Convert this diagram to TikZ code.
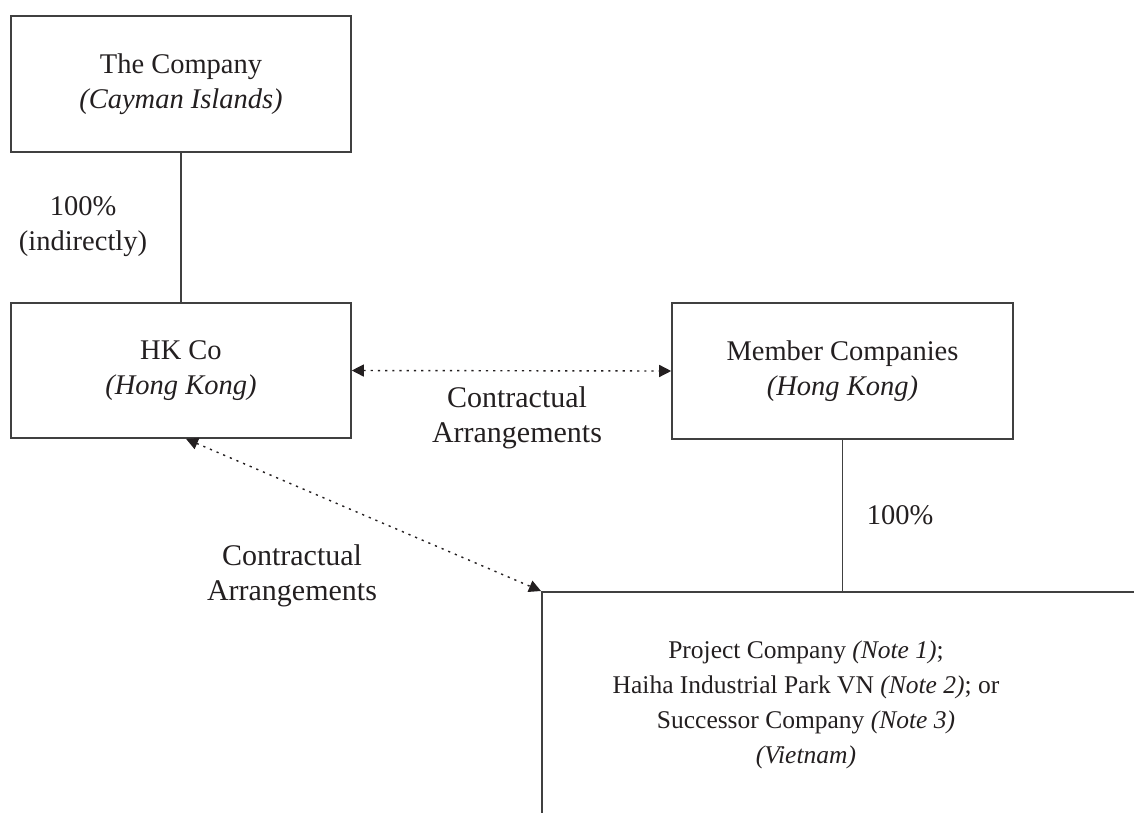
\documentclass[tikz,border=0pt]{standalone}
\usepackage{fontspec}
\setmainfont{Liberation Serif}
\usetikzlibrary{arrows.meta}
\definecolor{ln}{HTML}{404040}
\definecolor{tx}{HTML}{231F20}
\tikzset{
  box/.style={draw=ln, line width=1.6pt, rectangle, inner sep=0pt, align=center, text=tx,
    font=\fontsize{28.5}{35}\selectfont},
  lbl/.style={align=center, text=tx, inner sep=0pt, font=\fontsize{28.5}{35}\selectfont},
  biglbl/.style={lbl, font=\fontsize{30}{35}\selectfont},
  own/.style={draw=ln, line width=1.6pt},
  contract/.style={draw=tx, line width=1.4pt, dash pattern=on 2.2pt off 5pt,
    {Triangle[length=12pt,width=12pt]}-{Triangle[length=12pt,width=12pt]}}
}
\begin{document}
\begin{tikzpicture}[x=1pt,y=-1pt]
\useasboundingbox (0,0) rectangle (1134,812);
\clip (0,0) rectangle (1134,812);
\node[box, minimum width=340pt, minimum height=136pt] (top) at (181,84)
  {The Company\\\textit{(Cayman Islands)}};
\node[box, minimum width=340pt, minimum height=135pt] (hk) at (181,370.5)
  {HK Co\\\textit{(Hong Kong)}};
\node[box, minimum width=341pt, minimum height=136pt] (member) at (842.5,371)
  {Member Companies\\\textit{(Hong Kong)}};
\node[box, minimum width=700pt, minimum height=300pt, anchor=north west] (proj) at (541,591) {};
\node[lbl, font=\fontsize{25.5}{35}\selectfont] (projtext) at (806,705)
  {Project Company \textit{(Note 1)};\\Haiha Industrial Park VN \textit{(Note 2)}; or\\Successor Company \textit{(Note 3)}\\\textit{(Vietnam)}};
\draw[own] (top.south) -- (hk.north);
\draw[own] (member.south) -- (member.south |- proj.north);
\draw[contract] (hk.east) -- (member.west);
\draw[contract] ([xshift=5pt]hk.south) -- (proj.north west);
\node[lbl] (l1) at (83,227) {100\%\\(indirectly)};
\node[lbl] (l2) at (900,515) {100\%};
\node[biglbl] (l3) at (517,418) {Contractual\\Arrangements};
\node[biglbl] (l4) at (292,576) {Contractual\\Arrangements};
\end{tikzpicture}
\end{document}
